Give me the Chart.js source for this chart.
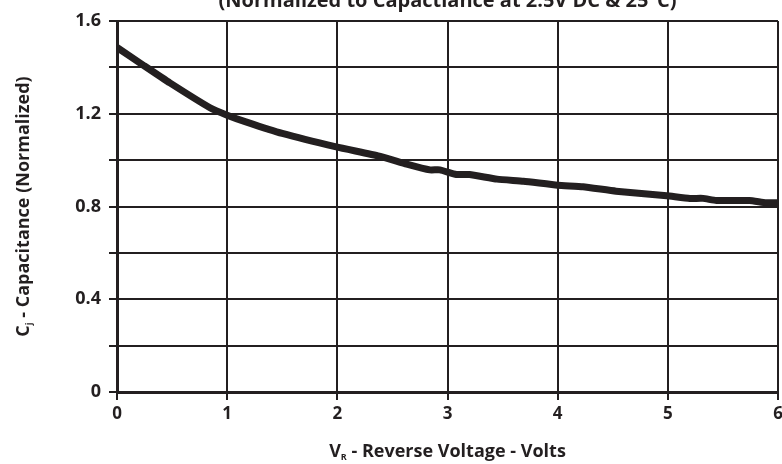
<!DOCTYPE html>
<html>
<head>
<meta charset="utf-8">
<script src="https://cdn.jsdelivr.net/npm/chart.js@4.4.1/dist/chart.umd.min.js"></script>
<style>
  html, body { margin: 0; padding: 0; background: #fff; }
  #wrap { width: 782px; height: 464px; position: relative; }
</style>
</head>
<body>
<div id="wrap"><canvas id="cap-chart"></canvas></div>
<script>
const voltage = [0, 0.24, 0.48, 0.84, 1.0, 1.17, 1.5, 1.99, 2.38, 2.63, 2.84, 2.93, 3.08, 3.2, 3.45, 3.69, 4.0, 4.23, 4.53, 4.99, 5.2, 5.32, 5.44, 5.74, 5.89, 6.0];
const capacitance = [1.486, 1.409, 1.333, 1.227, 1.194, 1.165, 1.115, 1.057, 1.017, 0.983, 0.958, 0.958, 0.938, 0.938, 0.918, 0.909, 0.892, 0.885, 0.866, 0.846, 0.835, 0.835, 0.826, 0.826, 0.816, 0.816];
const yTickLabels = ["0", "0.4", "0.8", "1.2", "1.6"];

const ink = "#231f20";
const fontFam = "'Open Sans', sans-serif";

const ctx = document.getElementById("cap-chart");

// draws "main + subscript + rest" centred on (cx, y) in the current transform
function subText(c, main, sub, rest, cx, y, size) {
	c.font = "bold " + size + "px " + fontFam;
	const w1 = c.measureText(main).width;
	const w3 = c.measureText(rest).width;
	c.font = "bold " + Math.round(size * 0.5) + "px " + fontFam;
	const w2 = c.measureText(sub).width;
	let x = cx - (w1 + w2 + w3) / 2;
	c.textAlign = "left";
	c.font = "bold " + size + "px " + fontFam;
	c.fillText(main, x, y);
	c.font = "bold " + Math.round(size * 0.5) + "px " + fontFam;
	c.fillText(sub, x + w1, y + 3);
	c.font = "bold " + size + "px " + fontFam;
	c.fillText(rest, x + w1 + w2, y);
}

const textPlugin = {
	id: "texts",
	afterDraw(chart) {
		const c = chart.ctx;
		const area = chart.chartArea;
		const midX = (area.left + area.right) / 2;
		c.save();
		c.fillStyle = ink;
		c.textAlign = "center";
		c.textBaseline = "alphabetic";
		c.font = "bold 20px " + fontFam;
		c.fillText("(Normalized to Capactiance at 2.5V DC & 25°C)", midX, 7);

		subText(c, "V", "R", " - Reverse Voltage - Volts", midX, 457, 18);

		c.translate(29, (area.top + area.bottom) / 2);
		c.rotate(-Math.PI / 2);
		subText(c, "C", "j", " - Capacitance (Normalized)", 0, 0, 18);
		c.restore();
	},
};

new Chart(ctx, {
	type: "line",
	data: {
		datasets: [
			{
				data: voltage.map((v, i) => ({ x: v, y: capacitance[i] })),
				borderColor: ink,
				borderWidth: 7,
				pointRadius: 0,
				tension: 0.15,
				borderJoinStyle: "round",
				borderCapStyle: "butt",
			},
		],
	},
	options: {
		responsive: true,
		maintainAspectRatio: false,
		animation: false,
		layout: { padding: { top: 21, right: 4, left: 0, bottom: 0 } },
		plugins: {
			legend: { display: false },
			tooltip: { enabled: false },
		},
		scales: {
			x: {
				type: "linear",
				min: 0,
				max: 6,
				afterFit: (s) => {
					s.height = 72;
					s.paddingRight = 0;
					s.paddingLeft = 0;
				},
				grid: { color: ink, lineWidth: 2, tickLength: 8, tickColor: ink },
				border: { color: ink, width: 3 },
				ticks: {
					stepSize: 1,
					color: ink,
					padding: 4,
					font: { family: fontFam, size: 17, weight: "bold" },
				},
			},
			y: {
				min: 0,
				max: 1.6,
				afterFit: (s) => {
					s.width = 117;
					s.paddingTop = 0;
					s.paddingBottom = 0;
				},
				grid: { color: ink, lineWidth: 2, tickLength: 8, tickColor: ink },
				border: { color: ink, width: 3 },
				ticks: {
					stepSize: 0.2,
					color: ink,
					padding: 8,
					font: { family: fontFam, size: 18, weight: "bold" },
					callback: function (val, index) {
						return index % 2 === 0 ? yTickLabels[index / 2] : "";
					},
				},
			},
		},
	},
	plugins: [textPlugin],
});
</script>
</body>
</html>
